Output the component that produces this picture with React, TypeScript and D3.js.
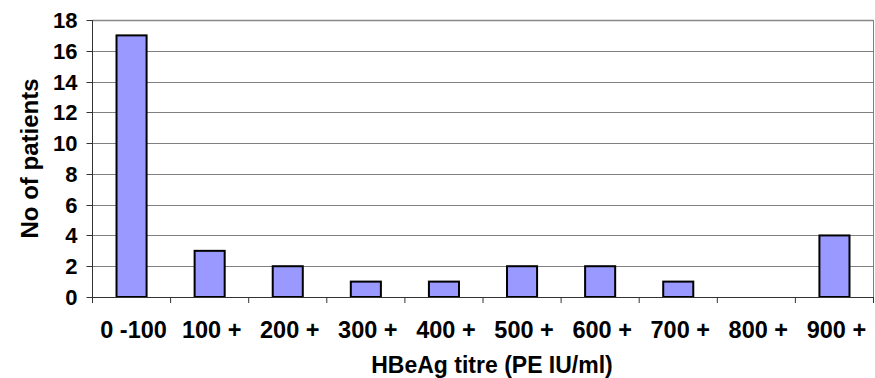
import React from "react";
import * as d3 from "d3";

const categories = ["0 -100", "100 +", "200 +", "300 +", "400 +", "500 +", "600 +", "700 +", "800 +", "900 +"];
const patients = [17, 3, 2, 1, 1, 2, 2, 1, 0, 4];
const yTicks = [0, 2, 4, 6, 8, 10, 12, 14, 16, 18];
const xTitle = "HBeAg titre (PE IU/ml)";
const yTitle = "No of patients";

const W = 875;
const H = 378;
const left = 92.5;
const right = 873.5;
const top = 20;
const bottom = 297;

export default function App() {
  const x = d3.scaleBand<string>().domain(categories).range([left, right]).paddingInner(0.615).paddingOuter(0.3075);
  const xOuter = d3.scaleBand<string>().domain(categories).range([left, right]);
  const y = d3.scaleLinear().domain([0, 18]).range([bottom, top]);
  const font = "'Liberation Sans', Arial, sans-serif";
  const boundaries = [...categories.map((c) => xOuter(c) as number), right];

  return (
    <svg width={W} height={H} style={{ position: "absolute", left: 0, top: 0, background: "#fff" }}>
      <rect x={0} y={0} width={W} height={H} fill="#fff" />
      {yTicks.map((t) => (
        <line key={"g" + t} x1={left} x2={right} y1={Math.round(y(t)) + 0.5} y2={Math.round(y(t)) + 0.5} stroke="#808080" strokeWidth={1} />
      ))}
      <line x1={right} x2={right} y1={top} y2={bottom} stroke="#808080" strokeWidth={1} />
      <line x1={left} x2={right} y1={top + 0.5} y2={top + 0.5} stroke="#888" strokeWidth={1.5} />
      {patients.map((v, i) => (
        <rect
          key={"b" + i}
          x={x(categories[i]) as number}
          y={y(v)}
          width={x.bandwidth()}
          height={bottom - y(v)}
          fill="#9999FF"
          stroke="#000"
          strokeWidth={2}
          style={{ display: v > 0 ? undefined : "none" }}
        />
      ))}
      <line x1={left} x2={left} y1={top} y2={bottom} stroke="#333" strokeWidth={1} />
      <line x1={left - 5} x2={right} y1={bottom + 0.5} y2={bottom + 0.5} stroke="#333" strokeWidth={1} />
      {yTicks.map((t) => (
        <line key={"yt" + t} x1={left - 6} x2={left} y1={Math.round(y(t)) + 0.5} y2={Math.round(y(t)) + 0.5} stroke="#333" strokeWidth={1} />
      ))}
      {boundaries.map((b, i) => (
        <line key={"xt" + i} x1={b} x2={b} y1={bottom} y2={bottom + 6} stroke="#333" strokeWidth={1} />
      ))}
      {yTicks.map((t) => (
        <text
          key={"yl" + t}
          x={77.5}
          y={y(t) + 8}
          textAnchor="end"
          fontFamily={font}
          fontWeight="bold"
          fontSize={22}
          fill="#000"
        >
          {t}
        </text>
      ))}
      {categories.map((c) => (
        <text
          key={"xl" + c}
          x={(xOuter(c) as number) + xOuter.bandwidth() / 2 + 2}
          y={337.5}
          textAnchor="middle"
          fontFamily={font}
          fontWeight="bold"
          fontSize={23.5}
          fill="#000"
        >
          {c}
        </text>
      ))}
      <text x={492} y={372.5} textAnchor="middle" fontFamily={font} fontWeight="bold" fontSize={23} fill="#000">
        {xTitle}
      </text>
      <text
        transform={`translate(38,${(top + bottom) / 2}) rotate(-90)`}
        textAnchor="middle"
        fontFamily={font}
        fontWeight="bold"
        fontSize={24}
        fill="#000"
      >
        {yTitle}
      </text>
    </svg>
  );
}
